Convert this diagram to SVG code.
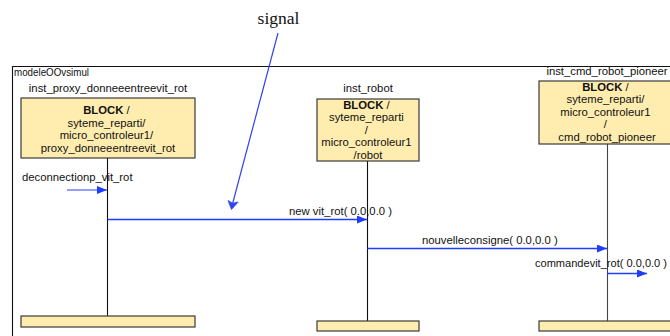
<svg xmlns="http://www.w3.org/2000/svg" width="670" height="336" viewBox="0 0 670 336">
  <defs>
    <style>
      .lbl { font-family: "Liberation Sans", Arial, sans-serif; font-size: 11.3px; fill: #111; }
      .box { fill: #FFEDB0; stroke: #3a3a3a; stroke-width: 1.2; }
      .life { stroke: #111; stroke-width: 1.1; fill: none; }
      .msg { stroke: #1f3cff; stroke-width: 1.3; fill: none; }
      .bold { font-weight: bold; }
    </style>
    <marker id="arrow" viewBox="0 0 10 8" refX="10" refY="4" markerWidth="10" markerHeight="8" markerUnits="userSpaceOnUse" orient="auto">
      <path d="M0,0 L10,4 L0,8 Z" fill="#1f3cff"/>
    </marker>
  </defs>
  <rect width="670" height="336" fill="#ffffff"/>

  <!-- enclosing frame -->
  <g id="frame">
    <path d="M12.5,340 V66.5 H680" fill="none" stroke="#111" stroke-width="1.1"/>
    <text class="lbl" x="14" y="76" font-size="9.5" textLength="75" lengthAdjust="spacingAndGlyphs">modeleOOvsimul</text>
  </g>

  <!-- lifeline: inst_proxy_donneeentreevit_rot -->
  <g id="inst_proxy">
    <text class="lbl" x="108" y="92" text-anchor="middle">inst_proxy_donneeentreevit_rot</text>
    <line class="life" x1="107.5" y1="158" x2="107.5" y2="316"/>
    <rect class="box" x="21" y="98" width="174" height="60"/>
    <text class="lbl" text-anchor="middle">
      <tspan x="108" y="114"><tspan class="bold">BLOCK</tspan> /</tspan>
      <tspan x="108" y="126.5">syteme_reparti/</tspan>
      <tspan x="108" y="139">micro_controleur1/</tspan>
      <tspan x="108" y="151.5">proxy_donneeentreevit_rot</tspan>
    </text>
    <rect class="box" x="21" y="316" width="174" height="11"/>
  </g>

  <!-- lifeline: inst_robot -->
  <g id="inst_robot">
    <text class="lbl" x="368" y="92" text-anchor="middle">inst_robot</text>
    <line class="life" x1="367.5" y1="161" x2="367.5" y2="321"/>
    <rect class="box" x="317" y="99" width="102" height="62"/>
    <text class="lbl" text-anchor="middle">
      <tspan x="368" y="108.5"><tspan class="bold">BLOCK</tspan> /</tspan>
      <tspan x="368" y="121">syteme_reparti</tspan>
      <tspan x="368" y="133.5">/</tspan>
      <tspan x="368" y="146">micro_controleur1</tspan>
      <tspan x="368" y="158.5">/robot</tspan>
    </text>
    <rect class="box" x="317" y="321" width="102" height="10"/>
  </g>

  <!-- lifeline: inst_cmd_robot_pioneer -->
  <g id="inst_cmd_robot_pioneer">
    <text class="lbl" x="607" y="75" text-anchor="middle">inst_cmd_robot_pioneer</text>
    <line x1="607.5" y1="144" x2="607.5" y2="321" stroke="#444" stroke-width="1.1"/>
    <rect class="box" x="539" y="81" width="138" height="63"/>
    <text class="lbl" text-anchor="middle">
      <tspan x="607" y="90.5"><tspan class="bold">BLOCK</tspan> /</tspan>
      <tspan x="607" y="103">syteme_reparti/</tspan>
      <tspan x="607" y="115.5">micro_controleur1</tspan>
      <tspan x="607" y="128">/</tspan>
      <tspan x="607" y="140.5">cmd_robot_pioneer</tspan>
    </text>
    <rect class="box" x="539" y="321" width="138" height="10"/>
  </g>

  <!-- messages -->
  <g id="connectors">
    <text class="lbl" x="22" y="181">deconnectionp_vit_rot</text>
    <line x1="67" y1="190" x2="107" y2="190" stroke="#6f7fff" stroke-width="1.4" marker-end="url(#arrow)"/>

    <text class="lbl" x="289" y="215">new vit_rot( 0.0,0.0 )</text>
    <line class="msg" x1="107.5" y1="219.5" x2="367" y2="219.5" marker-end="url(#arrow)"/>

    <text class="lbl" x="422" y="244">nouvelleconsigne( 0.0,0.0 )</text>
    <line class="msg" x1="367.5" y1="248.5" x2="607" y2="248.5" marker-end="url(#arrow)"/>

    <text class="lbl" x="535" y="267" textLength="132" lengthAdjust="spacingAndGlyphs">commandevit_rot( 0.0,0.0 )</text>
    <line class="msg" x1="607.5" y1="273.5" x2="647" y2="273.5" marker-end="url(#arrow)"/>
  </g>

  <!-- annotation -->
  <g id="signal">
    <text x="278.5" y="24" text-anchor="middle" font-family="'Liberation Serif', 'Times New Roman', serif" font-size="17.5" fill="#111">signal</text>
    <line x1="278" y1="33" x2="232.5" y2="204" stroke="#3344ee" stroke-width="1.2"/>
    <path d="M231.5,209.5 L228,200.5 L232.6,203.2 L238.2,202 Z" fill="#3344ee" stroke="#3344ee" stroke-width="0.8" stroke-linejoin="round"/>
  </g>
</svg>
